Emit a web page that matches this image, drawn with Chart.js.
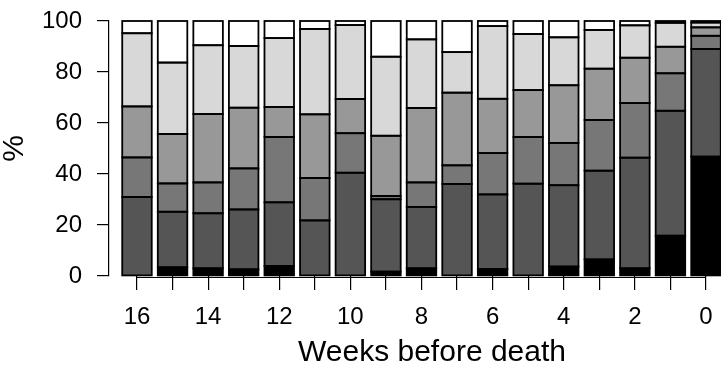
<!DOCTYPE html>
<html>
<head>
<meta charset="utf-8">
<script src="https://cdn.jsdelivr.net/npm/chart.js@4"></script>
<style>
  html, body { margin: 0; padding: 0; background: #fff; overflow: hidden; }
  #wrap { width: 760px; height: 365px; }
</style>
</head>
<body>
<div id="wrap"><canvas id="weeksChart" width="760" height="365"></canvas></div>
<script>
// weeks before death, left to right
const weeks = [16, 15, 14, 13, 12, 11, 10, 9, 8, 7, 6, 5, 4, 3, 2, 1, 0];
const xTickLabels = ["16", "", "14", "", "12", "", "10", "", "8", "", "6", "", "4", "", "2", "", "0"];
const yTickValues = [0, 20, 40, 60, 80, 100];

// stacked shares in %, bottom (black) to top (white)
const black = [0, 3.4, 3, 2.6, 3.9, 0, 0, 1.7, 3, 0, 2.7, 0, 3.7, 6.5, 3, 15.8, 46.8];
const darkGrey = [31, 21.8, 21.6, 23.5, 25, 21.8, 40.5, 28.4, 24.1, 36.1, 29.3, 36.2, 31.9, 34.8, 43.4, 49, 42.2];
const midDarkGrey = [15.5, 11.1, 12.1, 16.1, 25.6, 16.6, 15.5, 1.3, 9.6, 7.3, 16.2, 18.3, 16.6, 19.9, 21.4, 14.7, 5.2];
const midGrey = [20, 19.4, 26.8, 23.8, 11.8, 25, 13.4, 23.6, 29.2, 28.5, 21.3, 18.4, 22.6, 20.1, 17.8, 10.4, 3.3];
const lightGrey = [28.7, 28, 27, 24.2, 27, 33.5, 29, 31, 26.9, 15.9, 28.5, 22, 18.8, 15.2, 12.7, 9.4, 1.9];
const white = [4.8, 16.3, 9.5, 9.8, 6.7, 3.1, 1.6, 14, 7.2, 12.2, 2, 5.1, 6.4, 3.5, 1.7, 0.7, 0.6];

const seriesList = [black, darkGrey, midDarkGrey, midGrey, lightGrey, white];
const fills = ["#000000", "#555555", "#777777", "#989898", "#d8d8d8", "#ffffff"];

const FONT = "'Liberation Sans', Arial, Helvetica, sans-serif";

// R-style x axis line: only spans first to last tick
const xAxisLine = {
  id: "xAxisLine",
  afterDraw(chart) {
    const { ctx, chartArea } = chart;
    const x = chart.scales.x;
    const y = Math.round(chartArea.bottom) + 1.5;
    ctx.save();
    ctx.strokeStyle = "#000";
    ctx.lineWidth = 1.2;
    ctx.beginPath();
    ctx.moveTo(x.getPixelForValue(weeks[0]), y);
    ctx.lineTo(x.getPixelForValue(weeks[weeks.length - 1]), y);
    ctx.stroke();
    ctx.restore();
  },
};

// outline every bar segment centred on its edge, like R's rect()
const segmentOutline = {
  id: "segmentOutline",
  afterDatasetsDraw(chart) {
    const { ctx } = chart;
    ctx.save();
    ctx.strokeStyle = "#000";
    ctx.lineWidth = 1.8;
    chart.data.datasets.forEach((ds, k) => {
      chart.getDatasetMeta(k).data.forEach((bar) => {
        const p = bar.getProps(["x", "y", "base", "width"], true);
        const h = Math.abs(p.base - p.y);
        if (h < 0.01) return;
        ctx.strokeRect(p.x - p.width / 2, Math.min(p.y, p.base), p.width, h);
      });
    });
    ctx.restore();
  },
};

const ctx = document.getElementById("weeksChart").getContext("2d");
new Chart(ctx, {
  type: "bar",
  data: {
    datasets: seriesList.map((vals, k) => ({
      data: weeks.map((w, i) => ({ x: w, y: vals[i] })),
      backgroundColor: fills[k],
      borderWidth: 0,
      inflateAmount: 0,
      categoryPercentage: 1,
      barPercentage: 0.83,
    })),
  },
  plugins: [segmentOutline, xAxisLine],
  options: {
    responsive: false,
    animation: false,
    devicePixelRatio: 1,
    layout: { padding: { top: 21, left: 0, right: 5, bottom: 0 } },
    plugins: {
      legend: { display: false },
      tooltip: { enabled: false },
    },
    scales: {
      x: {
        type: "linear",
        reverse: true,
        stacked: true,
        offset: false,
        min: -1.378,
        max: 16.787,
        afterBuildTicks: (scale) => {
          scale.ticks = weeks.map((v) => ({ value: v }));
        },
        afterFit: (scale) => {
          scale.height = 89;
        },
        border: { display: false },
        grid: {
          offset: false,
          drawOnChartArea: false,
          drawTicks: true,
          tickLength: 14,
          color: "#000",
          lineWidth: 1.2,
        },
        ticks: {
          autoSkip: false,
          maxRotation: 0,
          padding: 13,
          color: "#000",
          font: { family: FONT, size: 24 },
          callback: (v, i) => xTickLabels[i],
        },
        title: {
          display: true,
          text: "Weeks before death",
          color: "#000",
          font: { family: FONT, size: 30, lineHeight: 0.8 },
          padding: 0,
        },
      },
      y: {
        stacked: true,
        min: 0,
        max: 100,
        afterBuildTicks: (scale) => {
          scale.ticks = yTickValues.map((v) => ({ value: v }));
        },
        afterFit: (scale) => {
          scale.width = 109;
          scale.paddingTop = 0;
          scale.paddingBottom = 0;
        },
        border: { display: true, color: "#000", width: 1.2 },
        grid: {
          drawOnChartArea: false,
          drawTicks: true,
          tickLength: 12,
          color: "#000",
          lineWidth: 1.2,
        },
        ticks: {
          padding: 15,
          color: "#000",
          font: { family: FONT, size: 24 },
        },
        title: {
          display: true,
          text: "%",
          color: "#000",
          font: { family: FONT, size: 30, lineHeight: 1 },
          padding: 0,
        },
      },
    },
  },
});
</script>
</body>
</html>
